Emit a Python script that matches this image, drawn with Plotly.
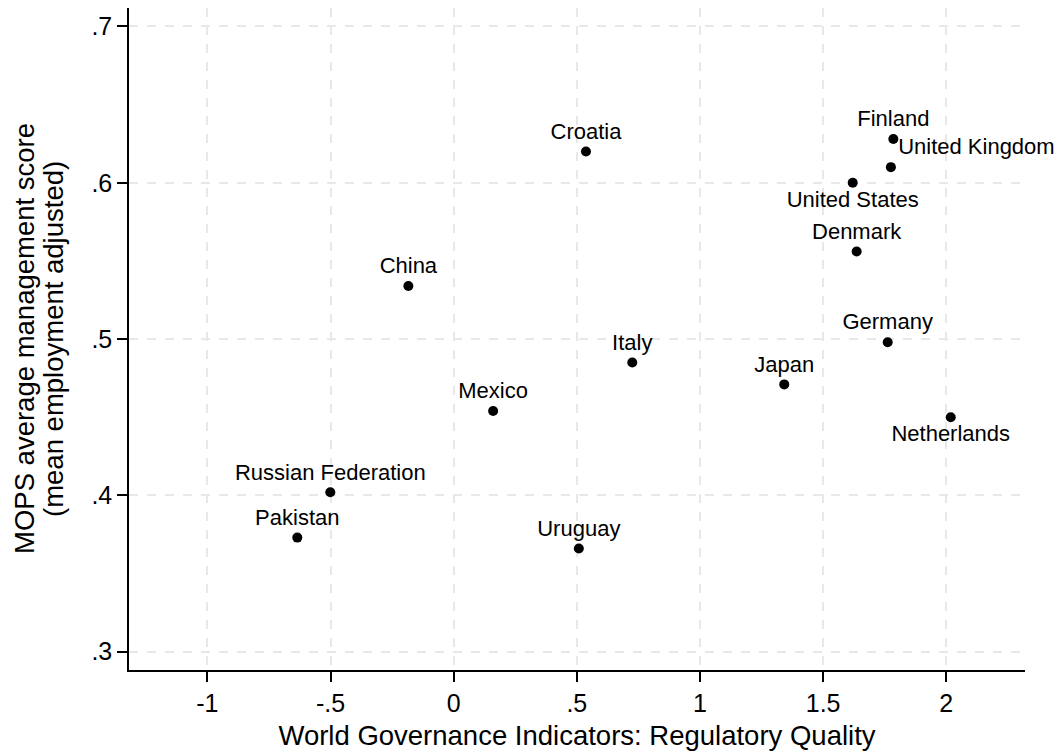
import plotly.graph_objects as go

countries = ["Finland", "United Kingdom", "United States", "Denmark", "Germany", "Japan",
             "Netherlands", "Croatia", "China", "Italy", "Mexico", "Russian Federation",
             "Pakistan", "Uruguay"]
regulatory_quality = [1.785, 1.775, 1.620, 1.636, 1.762, 1.342, 2.018, 0.537, -0.184, 0.725,
                      0.160, -0.501, -0.635, 0.508]
mgmt_score = [0.628, 0.610, 0.600, 0.556, 0.498, 0.471, 0.450, 0.620, 0.534, 0.485,
              0.454, 0.402, 0.373, 0.366]
label_pos = ["top center", "top right", "bottom center", "top center", "top center",
             "top center", "bottom center", "top center", "top center", "top center",
             "top center", "top center", "top center", "top center"]

x_ticks = [-1, -0.5, 0, 0.5, 1, 1.5, 2]
x_ticklabels = ["-1", "-.5", "0", ".5", "1", "1.5", "2"]
y_ticks = [0.3, 0.4, 0.5, 0.6, 0.7]
y_ticklabels = [".3", ".4", ".5", ".6", ".7"]

FONT = "Liberation Sans, Arial, Helvetica, sans-serif"

fig = go.Figure()
fig.add_trace(go.Scatter(
    x=regulatory_quality, y=mgmt_score, mode="markers+text",
    text=countries, textposition=label_pos,
    textfont=dict(family=FONT, size=22, color="black"),
    marker=dict(color="black", size=10),
    cliponaxis=False, showlegend=False, hoverinfo="skip",
))

axis_common = dict(
    showline=True, linecolor="black", linewidth=1.5,
    ticks="outside", ticklen=10, tickwidth=1.5, tickcolor="black",
    showgrid=True, gridcolor="#e8e8e8", gridwidth=1.5, griddash="dash",
    zeroline=False, tickfont=dict(family=FONT, size=25, color="black"),
)

fig.update_xaxes(range=[-1.3183, 2.3195], tickvals=x_ticks, ticktext=x_ticklabels,
                 title=dict(text="World Governance Indicators: Regulatory Quality",
                            font=dict(family=FONT, size=27.5, color="black"), standoff=10),
                 **axis_common)
fig.update_yaxes(range=[0.2883, 0.7118], tickvals=y_ticks, ticktext=y_ticklabels,
                 **axis_common)

for line, px in (("MOPS average management score", 24), ("(mean employment adjusted)", 53)):
    fig.add_annotation(text=line, xref="paper", yref="paper",
                       x=(px - 129) / 896, y=0.5, xanchor="center", yanchor="middle",
                       textangle=-90, showarrow=False,
                       font=dict(family=FONT, size=27.5, color="black"))

fig.update_layout(
    width=1059, height=755,
    margin=dict(l=129, r=34, t=8, b=85),
    paper_bgcolor="white", plot_bgcolor="white",
)

fig.write_html("out.html", config={"displayModeBar": False},
               post_script="document.body.style.margin='0';document.body.style.overflow='hidden';")
